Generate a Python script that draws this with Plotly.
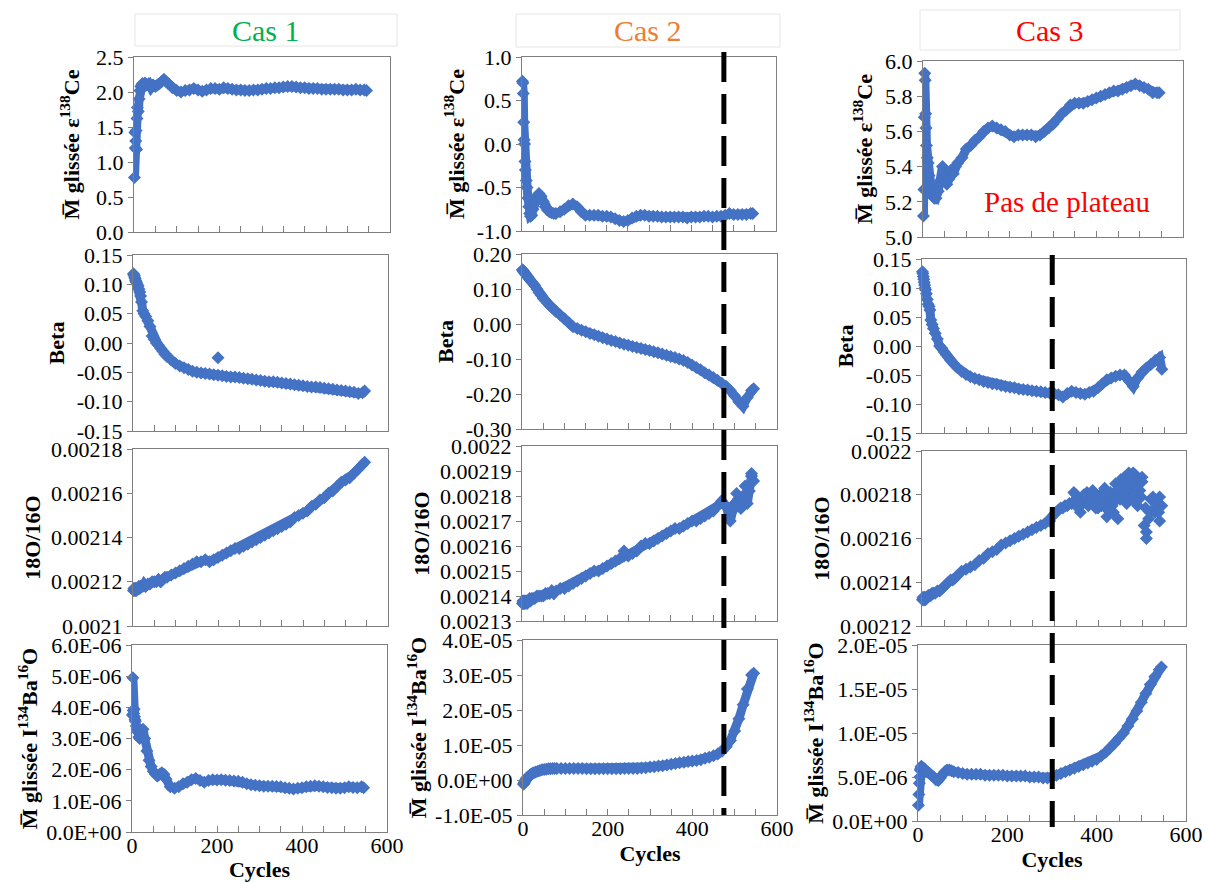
import plotly.graph_objects as go

W, H = 1205, 882

# ---------------- data ----------------
CYCLES = [1, 2, 3, 4, 5, 6, 7, 8,
          10, 12, 14, 16, 18, 20, 23, 26,
          30, 35, 40, 45, 50, 55, 60, 65, 70, 75, 80,
          90, 100, 110, 120, 130, 140, 150, 160, 170, 180,
          190, 200, 210, 220, 230, 240, 250, 260, 270, 280,
          290, 300, 310, 320, 330, 340, 350, 360, 370, 380,
          390, 400, 410, 420, 430, 440, 450, 460, 470, 480,
          490, 500, 510, 520, 530, 540, 545]

CE_CAS1 = [0.78, 1.42, 1.2, 1.3, 1.45, 1.18, 1.62, 1.78,
           1.72, 1.9, 2.02, 2.08, 2.1, 2.12, 2.08, 2.13,
           2.1, 2.12, 2.06, 2.1, 2.08, 2.1, 2.12, 2.15, 2.18, 2.15, 2.12,
           2.06, 2.02, 2.0, 2.02, 2.03, 2.05, 2.03, 2.01, 2.03, 2.05,
           2.05, 2.04, 2.06, 2.05, 2.04, 2.03, 2.03, 2.02, 2.02, 2.03,
           2.03, 2.04, 2.05, 2.05, 2.06, 2.06, 2.07, 2.08, 2.08, 2.07,
           2.06, 2.06, 2.05, 2.05, 2.05, 2.04, 2.04, 2.04, 2.04, 2.04,
           2.03, 2.03, 2.03, 2.04, 2.03, 2.03, 2.02]

CE_CAS2 = [0.72, 0.7, 0.58, 0.25, 0.05, 0.0, -0.2, -0.3,
           -0.42, -0.5, -0.62, -0.72, -0.8, -0.83, -0.82, -0.75,
           -0.68, -0.6, -0.57, -0.6, -0.66, -0.72, -0.76, -0.78, -0.79, -0.8, -0.8,
           -0.78, -0.75, -0.71, -0.69, -0.72, -0.78, -0.82, -0.82, -0.82, -0.82,
           -0.83, -0.83, -0.84, -0.86, -0.88, -0.89, -0.88, -0.85, -0.83, -0.82,
           -0.82, -0.83, -0.83, -0.83, -0.84, -0.84, -0.84, -0.84, -0.84, -0.84,
           -0.85, -0.84, -0.84, -0.84, -0.83, -0.83, -0.84, -0.83, -0.83, -0.82,
           -0.8, -0.81, -0.81, -0.81, -0.81, -0.8, -0.8]

CE_CAS3 = [5.12, 5.27, 5.68, 5.93, 5.89, 5.7, 5.62, 5.52,
           5.45, 5.42, 5.35, 5.3, 5.26, 5.25, 5.23, 5.22,
           5.22, 5.26, 5.32, 5.4, 5.36, 5.3, 5.33, 5.38, 5.36, 5.4, 5.42,
           5.45, 5.5, 5.52, 5.55, 5.57, 5.6, 5.62, 5.63, 5.62, 5.61,
           5.6, 5.58, 5.57, 5.58, 5.58, 5.58, 5.58, 5.57, 5.58, 5.6,
           5.62, 5.64, 5.67, 5.7, 5.72, 5.75, 5.76, 5.76, 5.76, 5.77,
           5.78, 5.79, 5.8, 5.81, 5.82, 5.83, 5.83, 5.84, 5.85, 5.86,
           5.87, 5.86, 5.85, 5.84, 5.82, 5.82, 5.82]

BETA_CAS1 = [0.118, 0.116, 0.115, 0.112, 0.11, 0.107, 0.105, 0.103,
             0.1, 0.097, 0.092, 0.087, 0.08, 0.07, 0.055, 0.05,
             0.045, 0.038, 0.028, 0.012, 0.006, 0.0, -0.004, -0.009, -0.014, -0.019, -0.023,
             -0.029, -0.035, -0.039, -0.042, -0.045, -0.048, -0.05, -0.051, -0.052, -0.053,
             -0.054, -0.055, -0.056, -0.057, -0.058, -0.058, -0.059, -0.06, -0.061, -0.062,
             -0.063, -0.064, -0.065, -0.066, -0.066, -0.067, -0.068, -0.069, -0.07, -0.071,
             -0.072, -0.073, -0.074, -0.075, -0.075, -0.076, -0.077, -0.078, -0.079, -0.08,
             -0.081, -0.082, -0.083, -0.084, -0.086, -0.085, -0.082]
BETA_CAS1_EXTRA_X = [200]
BETA_CAS1_EXTRA_Y = [-0.025]

BETA_CAS2 = [0.155, 0.153, 0.151, 0.15, 0.148, 0.147, 0.145, 0.143,
             0.14, 0.137, 0.134, 0.13, 0.127, 0.124, 0.12, 0.116,
             0.11, 0.1, 0.09, 0.082, 0.073, 0.067, 0.06, 0.053, 0.047, 0.042, 0.036,
             0.026, 0.015, 0.004, -0.008, -0.013, -0.018, -0.022, -0.027, -0.031, -0.035,
             -0.039, -0.043, -0.047, -0.05, -0.054, -0.058, -0.061, -0.064, -0.067, -0.07,
             -0.073, -0.076, -0.079, -0.082, -0.086, -0.089, -0.093, -0.096, -0.1, -0.104,
             -0.11, -0.117, -0.124, -0.131, -0.139, -0.146, -0.153, -0.161, -0.169, -0.178,
             -0.19, -0.205, -0.222, -0.235, -0.21, -0.19, -0.185]

BETA_CAS3 = [0.128, 0.125, 0.12, 0.115, 0.11, 0.105, 0.1, 0.097,
             0.09, 0.08, 0.072, 0.068, 0.062, 0.045, 0.037, 0.03,
             0.022, 0.012, 0.0, -0.004, -0.01, -0.015, -0.02, -0.025, -0.029, -0.033, -0.037,
             -0.044, -0.049, -0.053, -0.056, -0.058, -0.061, -0.063, -0.065, -0.066, -0.068,
             -0.07, -0.071, -0.072, -0.074, -0.075, -0.076, -0.077, -0.078, -0.079, -0.08,
             -0.081, -0.082, -0.084, -0.088, -0.082, -0.078, -0.08, -0.082, -0.083, -0.08,
             -0.078, -0.072, -0.065, -0.058, -0.055, -0.052, -0.05, -0.05, -0.06, -0.07,
             -0.055, -0.045, -0.038, -0.032, -0.025, -0.02, -0.04]

O18_CAS1 = [0.002116, 0.002117, 0.002116, 0.002117, 0.002116, 0.002117, 0.002117, 0.002116,
            0.002117, 0.002117, 0.002118, 0.002117, 0.002118, 0.002118, 0.002118, 0.002119,
            0.002118, 0.002119, 0.002119, 0.00212, 0.00212, 0.00212, 0.002121, 0.00212, 0.002121, 0.002122, 0.002122,
            0.002123, 0.002124, 0.002125, 0.002126, 0.002127, 0.002128, 0.002129, 0.002129, 0.00213, 0.002129,
            0.00213, 0.002131, 0.002132, 0.002133, 0.002134, 0.002135, 0.002135, 0.002136, 0.002137, 0.002138,
            0.002139, 0.00214, 0.002141, 0.002142, 0.002143, 0.002144, 0.002145, 0.002146, 0.002147, 0.002149,
            0.00215, 0.002151, 0.002152, 0.002154, 0.002155, 0.002157, 0.002158, 0.00216, 0.002161, 0.002163,
            0.002165, 0.002166, 0.002167, 0.002169, 0.002171, 0.002173, 0.002174]

O18_CAS2 = [0.002137, 0.002138, 0.002137, 0.002138, 0.002137, 0.002138, 0.002137, 0.002138,
            0.002138, 0.002137, 0.002138, 0.002138, 0.002139, 0.002138, 0.002139, 0.002139,
            0.002139, 0.00214, 0.00214, 0.00214, 0.00214, 0.002141, 0.002141, 0.002141, 0.002142, 0.002141, 0.002142,
            0.002143, 0.002143, 0.002144, 0.002145, 0.002146, 0.002147, 0.002148, 0.002149, 0.00215, 0.00215,
            0.002151, 0.002152, 0.002153, 0.002154, 0.002155, 0.002156, 0.002156, 0.002157, 0.002158, 0.00216,
            0.002161, 0.002161, 0.002162, 0.002163, 0.002164, 0.002165, 0.002166, 0.002167, 0.002167, 0.002168,
            0.002169, 0.00217, 0.00217, 0.002171, 0.002172, 0.002173, 0.002174, 0.002176, 0.002178, 0.002176,
            0.00217, 0.002177, 0.002179, 0.00218, 0.002177, 0.002188, 0.002186]
O18_CAS2_EXTRA_X = [240, 495, 505, 515, 525, 535, 540]
O18_CAS2_EXTRA_Y = [0.002158, 0.002174, 0.002181, 0.002175, 0.002184, 0.002182, 0.002189]

O18_CAS3 = [0.002132, 0.002133, 0.002132, 0.002133, 0.002132, 0.002133, 0.002133, 0.002132,
            0.002133, 0.002133, 0.002134, 0.002134, 0.002134, 0.002134, 0.002135, 0.002135,
            0.002135, 0.002136, 0.002136, 0.002137, 0.002138, 0.002139, 0.00214, 0.002141, 0.002141, 0.002142, 0.002143,
            0.002145, 0.002146, 0.002147, 0.002148, 0.00215, 0.002151, 0.002153, 0.002154, 0.002155, 0.002157,
            0.002158, 0.002159, 0.00216, 0.002161, 0.002162, 0.002163, 0.002164, 0.002165, 0.002166, 0.002167,
            0.002168, 0.002171, 0.002173, 0.002174, 0.002175, 0.002176, 0.00218, 0.002172, 0.002178, 0.002177,
            0.00218, 0.002174, 0.002181, 0.00217, 0.002178, 0.002185, 0.002178, 0.002188, 0.002182, 0.00219,
            0.002175, 0.002186, 0.00216, 0.002178, 0.002172, 0.002168, 0.002175]
O18_CAS3_EXTRA_X = [295, 305, 315, 325, 335, 345, 355, 365, 375, 385,
                    395, 405, 415, 425, 435, 445, 455, 465, 475, 485,
                    495, 505, 515, 525, 535, 500, 470, 510, 540, 345,
                    358, 368, 378, 388, 398, 408, 418, 428, 438, 448,
                    458, 468, 478, 488, 498, 508, 518, 528, 538, 452,
                    462, 472, 482, 492, 442, 432, 422, 412, 402, 392]
O18_CAS3_EXTRA_Y = [0.002170, 0.002172, 0.002174, 0.002175, 0.002176, 0.002177, 0.002174, 0.002176, 0.002181, 0.002178,
                    0.002174, 0.002177, 0.002183, 0.002176, 0.002172, 0.002169, 0.002184, 0.002176, 0.002184, 0.002189,
                    0.002182, 0.002166, 0.002169, 0.002179, 0.002176, 0.002188, 0.002190, 0.002163, 0.002179, 0.002181,
                    0.002178, 0.002180, 0.002175, 0.002182, 0.002179, 0.002175, 0.002178, 0.002181, 0.002177, 0.002180,
                    0.002179, 0.002181, 0.002178, 0.002185, 0.002179, 0.002174, 0.002172, 0.002174, 0.002172, 0.002187,
                    0.002185, 0.002187, 0.002180, 0.002179, 0.002182, 0.002175, 0.002173, 0.002179, 0.002176, 0.002179]

BAO_CAS1 = [3.75e-6, 4.95e-6, 3.9e-6, 3.8e-6, 3.95e-6, 3.7e-6, 3.6e-6, 3.55e-6,
            3.4e-6, 3.3e-6, 3.2e-6, 3.05e-6, 3.0e-6, 3.1e-6, 3.25e-6, 3.3e-6,
            3.0e-6, 2.6e-6, 2.3e-6, 2.1e-6, 1.95e-6, 1.85e-6, 1.8e-6, 1.85e-6, 1.9e-6, 1.85e-6, 1.7e-6,
            1.45e-6, 1.4e-6, 1.45e-6, 1.55e-6, 1.6e-6, 1.68e-6, 1.72e-6, 1.65e-6, 1.6e-6, 1.65e-6,
            1.68e-6, 1.67e-6, 1.68e-6, 1.66e-6, 1.65e-6, 1.64e-6, 1.63e-6, 1.6e-6, 1.55e-6, 1.52e-6,
            1.5e-6, 1.48e-6, 1.47e-6, 1.47e-6, 1.47e-6, 1.46e-6, 1.45e-6, 1.42e-6, 1.4e-6, 1.38e-6,
            1.4e-6, 1.42e-6, 1.45e-6, 1.47e-6, 1.48e-6, 1.47e-6, 1.45e-6, 1.43e-6, 1.42e-6, 1.4e-6,
            1.4e-6, 1.42e-6, 1.45e-6, 1.43e-6, 1.42e-6, 1.45e-6, 1.42e-6]

BAO_CAS2 = [-0.12e-5, -0.1e-5, -0.08e-5, -0.05e-5, -0.03e-5, 0.0, 0.02e-5, 0.04e-5,
            0.07e-5, 0.09e-5, 0.11e-5, 0.13e-5, 0.15e-5, 0.17e-5, 0.19e-5, 0.21e-5,
            0.23e-5, 0.25e-5, 0.27e-5, 0.29e-5, 0.3e-5, 0.31e-5, 0.32e-5, 0.32e-5, 0.33e-5, 0.33e-5, 0.33e-5,
            0.33e-5, 0.33e-5, 0.33e-5, 0.33e-5, 0.33e-5, 0.33e-5, 0.32e-5, 0.32e-5, 0.32e-5, 0.32e-5,
            0.32e-5, 0.32e-5, 0.32e-5, 0.32e-5, 0.32e-5, 0.33e-5, 0.33e-5, 0.33e-5, 0.33e-5, 0.34e-5,
            0.35e-5, 0.37e-5, 0.38e-5, 0.4e-5, 0.41e-5, 0.43e-5, 0.45e-5, 0.47e-5, 0.49e-5, 0.51e-5,
            0.53e-5, 0.54e-5, 0.56e-5, 0.58e-5, 0.62e-5, 0.65e-5, 0.69e-5, 0.74e-5, 0.82e-5, 0.95e-5,
            1.13e-5, 1.4e-5, 1.75e-5, 2.15e-5, 2.6e-5, 3.0e-5, 3.05e-5]

BAO_CAS3 = [0.18e-5, 0.3e-5, 0.43e-5, 0.5e-5, 0.58e-5, 0.6e-5, 0.62e-5, 0.62e-5,
            0.61e-5, 0.6e-5, 0.59e-5, 0.58e-5, 0.57e-5, 0.56e-5, 0.55e-5, 0.54e-5,
            0.52e-5, 0.5e-5, 0.47e-5, 0.46e-5, 0.49e-5, 0.53e-5, 0.56e-5, 0.58e-5, 0.58e-5, 0.57e-5, 0.56e-5,
            0.55e-5, 0.54e-5, 0.53e-5, 0.53e-5, 0.53e-5, 0.53e-5, 0.52e-5, 0.52e-5, 0.52e-5, 0.52e-5,
            0.52e-5, 0.51e-5, 0.51e-5, 0.51e-5, 0.51e-5, 0.51e-5, 0.5e-5, 0.5e-5, 0.5e-5, 0.49e-5,
            0.49e-5, 0.5e-5, 0.52e-5, 0.54e-5, 0.56e-5, 0.58e-5, 0.6e-5, 0.62e-5, 0.64e-5, 0.66e-5,
            0.68e-5, 0.7e-5, 0.74e-5, 0.78e-5, 0.83e-5, 0.88e-5, 0.94e-5, 1.0e-5, 1.08e-5, 1.16e-5,
            1.25e-5, 1.35e-5, 1.45e-5, 1.55e-5, 1.64e-5, 1.72e-5, 1.75e-5]

# tick values
TICKS_CE_CAS1 = [0.0, 0.5, 1.0, 1.5, 2.0, 2.5]
TICKS_CE_CAS2 = [-1.0, -0.5, 0.0, 0.5, 1.0]
TICKS_CE_CAS3 = [5.0, 5.2, 5.4, 5.6, 5.8, 6.0]
TICKS_BETA_CAS1 = [-0.15, -0.10, -0.05, 0.0, 0.05, 0.10, 0.15]
TICKS_BETA_CAS2 = [-0.30, -0.20, -0.10, 0.0, 0.10, 0.20]
TICKS_BETA_CAS3 = [-0.15, -0.10, -0.05, 0.0, 0.05, 0.10, 0.15]
TICKS_O18_CAS1 = [0.0021, 0.00212, 0.00214, 0.00216, 0.00218]
TICKS_O18_CAS2 = [0.00213, 0.00214, 0.00215, 0.00216, 0.00217, 0.00218, 0.00219, 0.0022]
TICKS_O18_CAS3 = [0.00212, 0.00214, 0.00216, 0.00218, 0.0022]
TICKS_BAO_CAS1 = [0.0, 1e-6, 2e-6, 3e-6, 4e-6, 5e-6, 6e-6]
TICKS_BAO_CAS2 = [-1e-5, 0.0, 1e-5, 2e-5, 3e-5, 4e-5]
TICKS_BAO_CAS3 = [0.0, 5e-6, 1e-5, 1.5e-5, 2e-5]
TICKS_X = [0, 200, 400, 600]

CASE_TITLES = ["Cas 1", "Cas 2", "Cas 3"]
CASE_COLORS = ["#00B050", "#ED7D31", "#FF0000"]
ROW_TITLES = ["<b>M\u0305 glissée ε<sup>138</sup>Ce</b>", "<b>Beta</b>", "<b>18O/16O</b>",
              "<b>M\u0305 glissée I<sup>134</sup>Ba<sup>16</sup>O</b>"]
CUT_CAS2 = 475
CUT_CAS3 = 296

# ---------------- layout helpers ----------------
FONT = "Liberation Serif"
BLUE = "#4472C4"
FRAME = "#7f7f7f"


def fmt1(v):
    return f"{v:.1f}"


def fmt2(v):
    return f"{v:.2f}"


def fmtg(v):
    return f"{v:g}"


def fmtE(v):
    return f"{v:.1E}"


# frames in pixels: left, top, right, bottom
panels = [
    # row 0
    dict(y=CE_CAS1, ticks=TICKS_CE_CAS1, fmt=fmt1, box=(134, 57, 390, 232), so=10),
    dict(y=CE_CAS2, ticks=TICKS_CE_CAS2, fmt=fmt1, box=(522, 57, 776, 231), so=6),
    dict(y=CE_CAS3, ticks=TICKS_CE_CAS3, fmt=fmt1, box=(923, 61, 1183, 237), so=6),
    # row 1
    dict(y=BETA_CAS1, ticks=TICKS_BETA_CAS1, fmt=fmt2, box=(133, 255, 388, 431), so=6,
         ex=(BETA_CAS1_EXTRA_X, BETA_CAS1_EXTRA_Y)),
    dict(y=BETA_CAS2, ticks=TICKS_BETA_CAS2, fmt=fmt2, box=(522, 254, 777, 429), so=6),
    dict(y=BETA_CAS3, ticks=TICKS_BETA_CAS3, fmt=fmt2, box=(922, 259, 1186, 433), so=6),
    # row 2
    dict(y=O18_CAS1, ticks=TICKS_O18_CAS1, fmt=fmtg, box=(133, 449, 388, 626), so=4),
    dict(y=O18_CAS2, ticks=TICKS_O18_CAS2, fmt=fmtg, box=(522, 446, 777, 621), so=4,
         ex=(O18_CAS2_EXTRA_X, O18_CAS2_EXTRA_Y)),
    dict(y=O18_CAS3, ticks=TICKS_O18_CAS3, fmt=fmtg, box=(922, 451, 1186, 626), so=4,
         ex=(O18_CAS3_EXTRA_X, O18_CAS3_EXTRA_Y), noisy=True),
    # row 3
    dict(y=BAO_CAS1, ticks=TICKS_BAO_CAS1, fmt=fmtE, box=(132, 645, 387, 832), so=2),
    dict(y=BAO_CAS2, ticks=TICKS_BAO_CAS2, fmt=fmtE, box=(523, 640, 777, 815), so=2),
    dict(y=BAO_CAS3, ticks=TICKS_BAO_CAS3, fmt=fmtE, box=(918, 645, 1186, 821), so=2),
]

fig = go.Figure()
layout = dict(
    width=W, height=H,
    margin=dict(l=0, r=0, t=0, b=0),
    paper_bgcolor="white", plot_bgcolor="white",
    font=dict(family=FONT, color="black", size=22),
    showlegend=False,
    shapes=[], annotations=[],
)

marker = dict(symbol="diamond", size=10, color=BLUE, line=dict(width=0))
band = dict(color=BLUE, width=9)

for k, p in enumerate(panels):
    n = k + 1
    row, col = divmod(k, 3)
    sx = "" if n == 1 else str(n)
    l, t, r, b = p["box"]
    mode = "markers" if p.get("noisy") else "lines+markers"
    fig.add_trace(go.Scatter(x=CYCLES, y=p["y"], mode=mode, marker=marker, line=band,
                             xaxis="x" + sx, yaxis="y" + sx, cliponaxis=False,
                             hoverinfo="skip"))
    if "ex" in p:
        fig.add_trace(go.Scatter(x=p["ex"][0], y=p["ex"][1], mode="markers", marker=marker,
                                 xaxis="x" + sx, yaxis="y" + sx, cliponaxis=False,
                                 hoverinfo="skip"))
    ticks = p["ticks"]
    last = row == 3
    layout["xaxis" + sx] = dict(
        domain=[l / W, r / W], anchor="y" + sx, range=[0, 600],
        tickvals=TICKS_X, ticktext=[str(v) for v in TICKS_X],
        showticklabels=last, ticks="inside", ticklen=6, tickcolor=FRAME,
        minor=dict(dtick=50, tick0=0, ticks="inside", ticklen=6, tickcolor=FRAME),
        showline=True, linecolor=FRAME, linewidth=1, mirror=True,
        showgrid=False, zeroline=False, automargin=False,
        ticklabelstandoff=-6,
        tickfont=dict(size=22, family=FONT, color="black"),
        title=dict(text="<b>Cycles</b>" if last else "", standoff=0,
                   font=dict(size=22, family=FONT, color="black")),
    )
    layout["yaxis" + sx] = dict(
        domain=[1 - b / H, 1 - t / H], anchor="x" + sx, range=[ticks[0], ticks[-1]],
        tickvals=ticks, ticktext=[p["fmt"](v) for v in ticks],
        ticks="outside", ticklen=5, tickcolor=FRAME,
        showline=True, linecolor=FRAME, linewidth=1, mirror=True,
        showgrid=False, zeroline=False, automargin=False,
        tickfont=dict(size=22, family=FONT, color="black"),
        title=dict(text=ROW_TITLES[row], standoff=p["so"],
                   font=dict(size=22, family=FONT, color="black")),
    )

# case title boxes and texts
title_boxes = [(135, 14, 397, 46), (516, 14, 780, 47), (920, 10, 1180, 50)]
for i, (l, t, r, b) in enumerate(title_boxes):
    layout["shapes"].append(dict(type="rect", xref="paper", yref="paper",
                                 x0=l / W, x1=r / W, y0=1 - b / H, y1=1 - t / H,
                                 line=dict(color="#e6e6e6", width=1)))
    layout["annotations"].append(dict(text=CASE_TITLES[i], xref="paper", yref="paper",
                                      x=(l + r) / 2 / W, y=1 - (t + b) / 2 / H,
                                      xanchor="center", yanchor="middle", showarrow=False,
                                      font=dict(size=30, family=FONT, color=CASE_COLORS[i])))

layout["annotations"].append(dict(text="Pas de plateau", xref="paper", yref="paper",
                                  x=1067 / W, y=1 - 202 / H, xanchor="center", yanchor="middle",
                                  showarrow=False,
                                  font=dict(size=29, family=FONT, color="#FF0000")))

# dashed cut-off lines
layout["shapes"].append(dict(type="line", xref="x5", yref="paper", x0=CUT_CAS2, x1=CUT_CAS2,
                             y0=1 - 52 / H, y1=1 - 815 / H,
                             line=dict(color="black", width=5, dash="30px,12px")))
layout["shapes"].append(dict(type="line", xref="x6", yref="paper", x0=CUT_CAS3, x1=CUT_CAS3,
                             y0=1 - 255 / H, y1=1 - 827 / H,
                             line=dict(color="black", width=5, dash="30px,12px")))

fig.update_layout(**layout)
fig.write_html("out.html", config={"displayModeBar": False},
               post_script="document.body.style.margin='0';document.body.style.overflow='hidden';")
